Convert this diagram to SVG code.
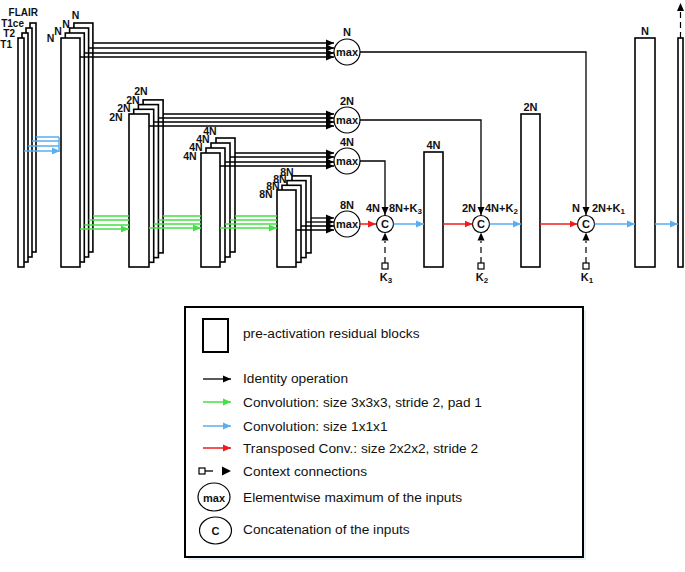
<svg xmlns="http://www.w3.org/2000/svg" width="685" height="572" viewBox="0 0 685 572">
<style>
.blk{fill:#fff;stroke:#000;stroke-width:1.6}
.lb{font-family:"Liberation Sans",Arial,sans-serif;font-weight:bold;font-size:11px;fill:#111;text-anchor:middle}
.sl{font-family:"Liberation Sans",Arial,sans-serif;font-weight:bold;font-size:10.5px;fill:#111;text-anchor:middle}
.ib{font-family:"Liberation Sans",Arial,sans-serif;font-weight:bold;font-size:10px;fill:#111;text-anchor:end}
.lg{font-family:"Liberation Sans",Arial,sans-serif;font-size:13.7px;fill:#111}
.id{stroke:#000;stroke-width:1.3;fill:none}
.gr{stroke:#45e045;stroke-width:1.5;fill:none}
.bl{stroke:#5aaef0;stroke-width:1.5;fill:none}
.rd{stroke:#ee1c1c;stroke-width:1.5;fill:none}
.ctx{stroke:#000;stroke-width:1.2;stroke-dasharray:6 4;fill:none}
.circ{fill:#fff;stroke:#000;stroke-width:1.2}
.sq{fill:#fff;stroke:#000;stroke-width:1.2}
</style>
<defs>
<marker id="ak" markerUnits="userSpaceOnUse" markerWidth="9" markerHeight="8" refX="8" refY="4" orient="auto"><path d="M0,0.5 L8,4 L0,7.5z" fill="#000"/></marker>
<marker id="ag" markerUnits="userSpaceOnUse" markerWidth="9" markerHeight="8" refX="8" refY="4" orient="auto"><path d="M0,0.5 L8,4 L0,7.5z" fill="#45e045"/></marker>
<marker id="ab" markerUnits="userSpaceOnUse" markerWidth="9" markerHeight="8" refX="8" refY="4" orient="auto"><path d="M0,0.5 L8,4 L0,7.5z" fill="#5aaef0"/></marker>
<marker id="ar" markerUnits="userSpaceOnUse" markerWidth="9" markerHeight="8" refX="8" refY="4" orient="auto"><path d="M0,0.5 L8,4 L0,7.5z" fill="#ee1c1c"/></marker>
</defs>
<rect width="685" height="572" fill="#fff"/>

<g id="inputs">
<rect class="blk" x="30" y="23" width="6" height="229"/>
<rect class="blk" x="26" y="28" width="6" height="229"/>
<rect class="blk" x="22" y="33" width="6" height="229"/>
<rect class="blk" x="18" y="38" width="6" height="229"/>
<text class="ib" x="38" y="16">FLAIR</text>
<text class="ib" x="24" y="27">T1ce</text>
<text class="ib" x="15" y="37">T2</text>
<text class="ib" x="12" y="48">T1</text>
</g>

<g id="enc1">
<rect class="blk" x="73.9" y="23" width="19" height="229"/>
<rect class="blk" x="69.6" y="28" width="19" height="229"/>
<rect class="blk" x="65.3" y="33" width="19" height="229"/>
<rect class="blk" x="61" y="38" width="19" height="229"/>
<text class="sl" x="50.5" y="41.5">N</text>
<text class="sl" x="58" y="35">N</text>
<text class="sl" x="66" y="28">N</text>
<text class="sl" x="75.5" y="19">N</text>
</g>

<g id="enc2">
<rect class="blk" x="143.1" y="99.9" width="20" height="153"/>
<rect class="blk" x="138.4" y="104.6" width="20" height="153"/>
<rect class="blk" x="133.7" y="109.3" width="20" height="153"/>
<rect class="blk" x="129" y="114" width="20" height="153"/>
<text class="sl" x="116" y="121">2N</text>
<text class="sl" x="124" y="112">2N</text>
<text class="sl" x="133" y="104">2N</text>
<text class="sl" x="141" y="95">2N</text>
</g>

<g id="enc3">
<rect class="blk" x="216" y="138" width="19" height="114"/>
<rect class="blk" x="211" y="143" width="19" height="114"/>
<rect class="blk" x="206" y="148" width="19" height="114"/>
<rect class="blk" x="201" y="153" width="19" height="114"/>
<text class="sl" x="190" y="160">4N</text>
<text class="sl" x="196" y="151">4N</text>
<text class="sl" x="203" y="143">4N</text>
<text class="sl" x="210" y="135">4N</text>
</g>

<g id="enc4">
<rect class="blk" x="292" y="175.9" width="19" height="77"/>
<rect class="blk" x="287" y="180.6" width="19" height="77"/>
<rect class="blk" x="282" y="185.3" width="19" height="77"/>
<rect class="blk" x="277" y="190" width="19" height="77"/>
<text class="sl" x="266" y="198">8N</text>
<text class="sl" x="273" y="190">8N</text>
<text class="sl" x="280" y="183">8N</text>
<text class="sl" x="287" y="176">8N</text>
</g>

<g id="maxN">
<circle class="circ" cx="347" cy="52" r="13"/>
<text class="lb" x="347" y="56">max</text>
<text class="lb" x="347" y="36">N</text>
</g>
<g id="max2N">
<circle class="circ" cx="347" cy="120" r="13"/>
<text class="lb" x="347" y="124">max</text>
<text class="lb" x="347" y="105">2N</text>
</g>
<g id="max4N">
<circle class="circ" cx="347" cy="161" r="13"/>
<text class="lb" x="347" y="165">max</text>
<text class="lb" x="347" y="146">4N</text>
</g>
<g id="max8N">
<circle class="circ" cx="347" cy="224" r="13"/>
<text class="lb" x="347" y="228">max</text>
<text class="lb" x="347" y="209">8N</text>
</g>

<g id="cat3">
<circle class="circ" cx="385" cy="224" r="8.5"/>
<text class="lb" x="385" y="228" font-size="10">C</text>
<text class="lb" x="380" y="212" style="text-anchor:end">4N</text>
<text class="lb" x="389" y="212" style="text-anchor:start">8N+K<tspan font-size="8" dy="2">3</tspan></text>
<rect class="sq" x="382" y="263" width="6" height="6"/>
<text class="lb" x="386" y="281">K<tspan font-size="8" dy="2">3</tspan></text>
</g>
<g id="dec4N">
<rect class="blk" x="424" y="152" width="19" height="115"/>
<text class="lb" x="433.5" y="149">4N</text>
</g>
<g id="cat2">
<circle class="circ" cx="481" cy="224" r="8.5"/>
<text class="lb" x="481" y="228" font-size="10">C</text>
<text class="lb" x="476" y="212" style="text-anchor:end">2N</text>
<text class="lb" x="485" y="212" style="text-anchor:start">4N+K<tspan font-size="8" dy="2">2</tspan></text>
<rect class="sq" x="478" y="263" width="6" height="6"/>
<text class="lb" x="482" y="281">K<tspan font-size="8" dy="2">2</tspan></text>
</g>
<g id="dec2N">
<rect class="blk" x="521" y="114" width="19" height="153"/>
<text class="lb" x="530.5" y="111">2N</text>
</g>
<g id="cat1">
<circle class="circ" cx="586" cy="224" r="8.5"/>
<text class="lb" x="586" y="228" font-size="10">C</text>
<text class="lb" x="580" y="212" style="text-anchor:end">N</text>
<text class="lb" x="592" y="212" style="text-anchor:start">2N+K<tspan font-size="8" dy="2">1</tspan></text>
<rect class="sq" x="583" y="263" width="6" height="6"/>
<text class="lb" x="587" y="281">K<tspan font-size="8" dy="2">1</tspan></text>
</g>
<g id="decN">
<rect class="blk" x="635" y="38" width="20" height="229"/>
<text class="lb" x="645" y="35">N</text>
</g>
<g id="out">
<rect class="blk" x="678" y="38" width="5" height="229"/>
</g>

<g id="connectors">
<path class="bl" d="M36,137 H59 M32,141 H59 M28,146 H59 M59,137 V150"/>
<path class="bl" d="M24,151 H60" marker-end="url(#ab)"/>
<g class="id" marker-end="url(#ak)">
<path d="M93,43 H334"/><path d="M88.6,48 H334"/><path d="M84.3,53 H334"/><path d="M80,57 H334"/>
<path d="M163,114 H334"/><path d="M158.4,118 H334"/><path d="M153.7,122 H334"/><path d="M149,126 H334"/>
<path d="M235,153 H334"/><path d="M230,157 H334"/><path d="M225,162 H334"/><path d="M220,166 H334"/>
<path d="M311,218 H334"/><path d="M306,222 H334"/><path d="M301,226 H334"/><path d="M296,230 H334"/>
</g>
<path class="gr" d="M93,216 H129 M88.6,220 H129 M84.3,225 H129"/>
<path class="gr" d="M80,229 H129" marker-end="url(#ag)"/>
<path class="gr" d="M163,216 H201 M158.4,220 H201 M153.7,224 H201"/>
<path class="gr" d="M149,228 H201" marker-end="url(#ag)"/>
<path class="gr" d="M235,216 H277 M230,220 H277 M225,224 H277"/>
<path class="gr" d="M220,228 H277" marker-end="url(#ag)"/>
<path class="id" d="M360,52 H586 V215" marker-end="url(#ak)"/>
<path class="id" d="M360,120 H481 V215" marker-end="url(#ak)"/>
<path class="id" d="M360,161 H385 V215" marker-end="url(#ak)"/>
<path class="rd" d="M360,224 H376" marker-end="url(#ar)"/>
<path class="bl" d="M393.5,224 H424" marker-end="url(#ab)"/>
<path class="rd" d="M443,224 H472.5" marker-end="url(#ar)"/>
<path class="bl" d="M489.5,224 H521" marker-end="url(#ab)"/>
<path class="rd" d="M540,224 H577.5" marker-end="url(#ar)"/>
<path class="bl" d="M594.5,224 H635" marker-end="url(#ab)"/>
<path class="bl" d="M655,224 H678" marker-end="url(#ab)"/>
<path class="ctx" d="M385,263 V241"/><path d="M385,232.5 L381.5,240.5 L388.5,240.5z" fill="#000"/>
<path class="ctx" d="M481,263 V241"/><path d="M481,232.5 L477.5,240.5 L484.5,240.5z" fill="#000"/>
<path class="ctx" d="M586,263 V241"/><path d="M586,232.5 L582.5,240.5 L589.5,240.5z" fill="#000"/>
<path class="ctx" d="M680.5,38 V12"/><path d="M680.5,3 L677,11 L684,11z" fill="#000"/>
</g>

<g id="legend">
<rect x="188" y="310" width="398" height="250" fill="#e4f1f6"/>
<rect x="185" y="307" width="398" height="250" fill="#fff" stroke="#000" stroke-width="2"/>
<rect x="203" y="319" width="25" height="33" fill="#fff" stroke="#000" stroke-width="2"/>
<text class="lg" x="243" y="338">pre-activation residual blocks</text>
<path class="id" d="M203,379 H231" marker-end="url(#ak)"/>
<text class="lg" x="243" y="383">Identity operation</text>
<path class="gr" d="M203,402 H231" marker-end="url(#ag)"/>
<text class="lg" x="243" y="407">Convolution: size 3x3x3, stride 2, pad 1</text>
<path class="bl" d="M203,426 H231" marker-end="url(#ab)"/>
<text class="lg" x="243" y="431">Convolution: size 1x1x1</text>
<path class="rd" d="M203,448 H231" marker-end="url(#ar)"/>
<text class="lg" x="243" y="453">Transposed Conv.: size 2x2x2, stride 2</text>
<rect class="sq" x="199" y="468" width="6" height="6"/>
<path class="id" d="M205,471 H213"/>
<path d="M231,471 L222,466.5 L222,475.5z" fill="#000"/>
<text class="lg" x="243" y="476">Context connections</text>
<ellipse class="circ" cx="214" cy="497" rx="16" ry="14"/>
<text class="lb" x="214" y="501.5" font-size="12">max</text>
<text class="lg" x="243" y="502">Elementwise maximum of the inputs</text>
<ellipse class="circ" cx="215.5" cy="530.5" rx="16" ry="13.5"/>
<text class="lb" x="215.5" y="535" font-size="12">C</text>
<text class="lg" x="243" y="534">Concatenation of the inputs</text>
</g>
</svg>
